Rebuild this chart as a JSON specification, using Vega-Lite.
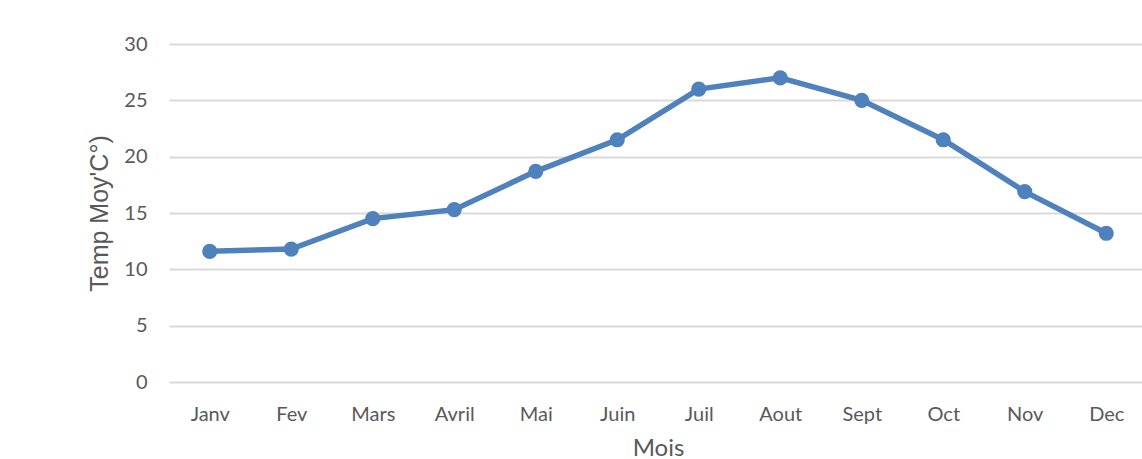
{
  "$schema": "https://vega.github.io/schema/vega-lite/v6.json",
  "autosize": {"type": "none"},
  "width": 978,
  "height": 338,
  "padding": {"left": 169, "top": 44, "right": 0, "bottom": 77},
  "background": "white",
  "config": {
    "view": {"stroke": null},
    "font": "Lato"
  },
  "data": {
    "values": [
      {"mois": "Janv", "temp": 11.6},
      {"mois": "Fev", "temp": 11.8},
      {"mois": "Mars", "temp": 14.5},
      {"mois": "Avril", "temp": 15.3},
      {"mois": "Mai", "temp": 18.7},
      {"mois": "Juin", "temp": 21.5},
      {"mois": "Juil", "temp": 26.0},
      {"mois": "Aout", "temp": 27.0},
      {"mois": "Sept", "temp": 25.0},
      {"mois": "Oct", "temp": 21.5},
      {"mois": "Nov", "temp": 16.9},
      {"mois": "Dec", "temp": 13.2}
    ]
  },
  "mark": {"type": "line", "color": "#4F81BD", "strokeWidth": 5.5, "point": {"filled": true, "size": 230, "color": "#4F81BD"}},
  "encoding": {
    "x": {
      "field": "mois",
      "type": "ordinal",
      "sort": null,
      "scale": {"paddingInner": 0, "paddingOuter": 0.5},
      "axis": {
        "title": "Mois",
        "titleFont": "Lato",
        "titleFontSize": 24,
        "titleFontWeight": "normal",
        "titleColor": "#595959",
        "titlePadding": 12,
        "labelAngle": 0,
        "labelFontSize": 20,
        "labelColor": "#595959",
        "labelPadding": 22,
        "ticks": false,
        "domain": false,
        "grid": false
      }
    },
    "y": {
      "field": "temp",
      "type": "quantitative",
      "scale": {"domain": [0, 30], "nice": false},
      "axis": {
        "title": "Temp Moy'C°)",
        "titleFont": "Liberation Sans",
        "titleFontSize": 25,
        "titleFontWeight": "normal",
        "titleColor": "#595959",
        "titlePadding": 11,
        "values": [0, 5, 10, 15, 20, 25, 30],
        "labelFontSize": 20,
        "labelColor": "#595959",
        "labelPadding": 22,
        "ticks": false,
        "domain": false,
        "grid": true,
        "gridColor": "#D9D9D9",
        "gridWidth": 2
      }
    }
  }
}
